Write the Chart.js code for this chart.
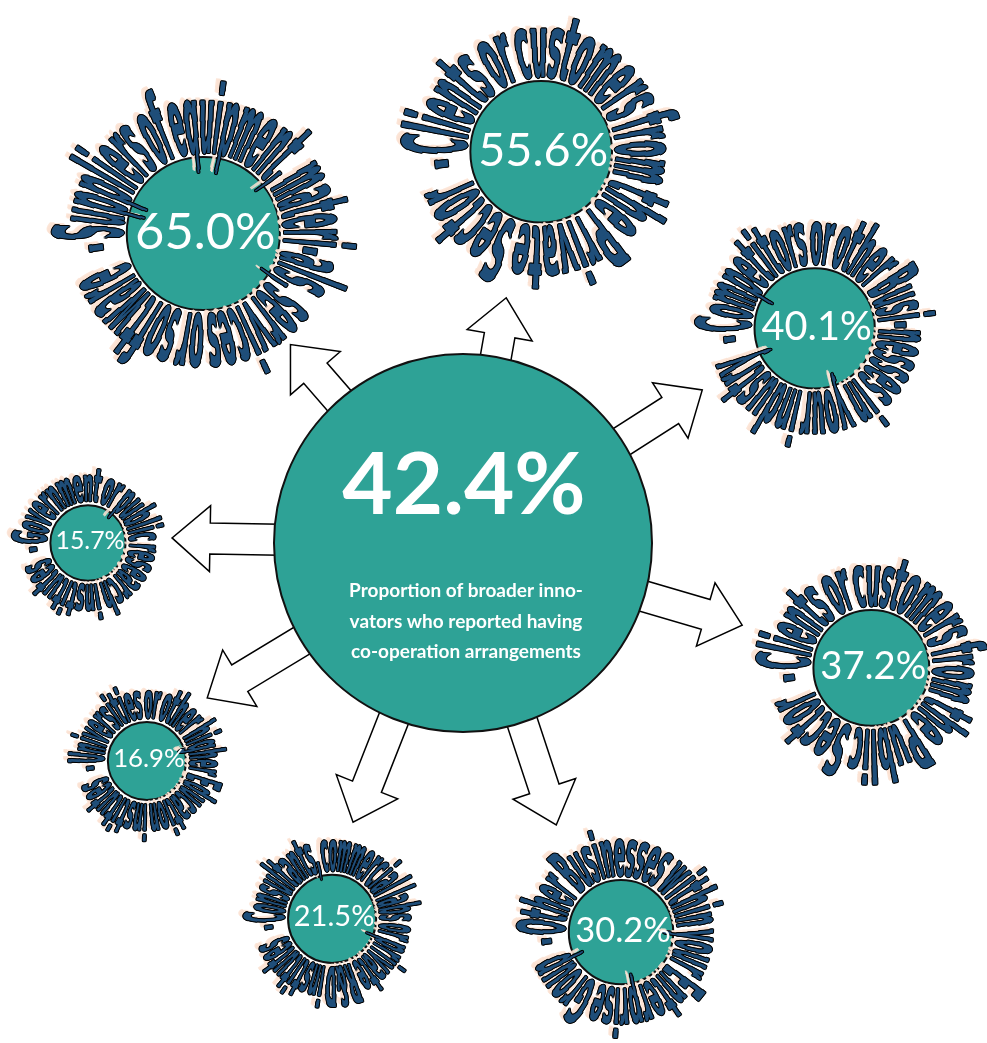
<!DOCTYPE html>
<html>
<head>
<meta charset="utf-8">
<title>Co-operation partners of broader innovators</title>
<script src="https://cdn.jsdelivr.net/npm/chart.js@4.4.1/dist/chart.umd.min.js"></script>
<style>
  html, body { margin: 0; padding: 0; background: #fff; }
  #wrap { width: 987px; height: 1043px; }
</style>
</head>
<body>
<div id="wrap"><canvas id="coopChart" width="987" height="1043"></canvas></div>
<script>
const partners = [
  "- Suppliers of equipment, materi-als, services or software",
  "- Clients or customers from the Private Sector",
  "- Competitors or other Busi-nesses in your industry",
  "- Government or public research institutes",
  "- Clients or customers from the Public Sector",
  "- Universities or other higher Education institutes",
  "- Consultants, commercial labs or private R&D institutes",
  "- Other Businesses within your Enterprise Group",
];
const shares = [65.0, 55.6, 40.1, 15.7, 37.2, 16.9, 21.5, 30.2];
const overallShare = 42.4;
const overallCaption = [
  "Proportion of broader inno-",
  "vators who reported having",
  "co-operation arrangements",
];

// placement round the hub: degrees clockwise from 3 o'clock, distances in px
const hub = { x: 463, y: 543, r: 189 };
const spokeAngles = [-130, -78.7, -31.4, 180, 17, 145.4, 109.2, 67.9];
const spokeLengths = [404, 399, 412, 375, 427, 384, 398, 420];
const arrowAngles = [-131, -80, -32.6, 181, 16.4, 148.8, 111.5, 71.7];
const arrowReach = [263, 249, 284, 291, 291, 299, 300, 297];

const TEAL = "#2ea296";
const INK = "#1f4e79";
const PEACH = "rgba(252,226,210,0.85)";
const RING_FONT = '"Liberation Sans Narrow", "DejaVu Sans Condensed", "Liberation Sans", sans-serif';
const LABEL_FONT = 'Lato, "Open Sans", sans-serif';

const rad = (d) => (d * Math.PI) / 180;
// circle area follows the share
const bubbleSize = (v) => 9.5 * Math.sqrt(v);

const partnerPoints = shares.map((v, i) => ({
  x: hub.x + spokeLengths[i] * Math.cos(rad(spokeAngles[i])),
  y: hub.y + spokeLengths[i] * Math.sin(rad(spokeAngles[i])),
  r: bubbleSize(v),
  v,
}));

function drawArrow(ctx, cx, cy, angle, reach) {
  const start = 140, headLen = 38, shaft = 15.5, head = 33;
  ctx.save();
  ctx.translate(cx, cy);
  ctx.rotate(rad(angle));
  ctx.beginPath();
  ctx.moveTo(start, -shaft);
  ctx.lineTo(reach - headLen, -shaft);
  ctx.lineTo(reach - headLen, -head);
  ctx.lineTo(reach, 0);
  ctx.lineTo(reach - headLen, head);
  ctx.lineTo(reach - headLen, shaft);
  ctx.lineTo(start, shaft);
  ctx.closePath();
  ctx.fillStyle = "#fff";
  ctx.fill();
  ctx.lineWidth = 1.5;
  ctx.strokeStyle = "#000";
  ctx.lineJoin = "miter";
  ctx.stroke();
  ctx.restore();
}

// one glyph bent onto the ring: sliced radially so it widens outwards
const SLICES = 6;
function drawGlyph(ctx, g, base, sx0, fontPx, ox, oy) {
  const band = fontPx / SLICES;
  for (let k = -2; k < SLICES; k++) {
    const sx = (sx0 * (base + (k + 0.5) * band)) / base;
    ctx.save();
    ctx.translate(g.x + ox, g.y + oy);
    ctx.rotate(g.theta + Math.PI / 2);
    ctx.beginPath();
    ctx.rect(-400, -(k + 1) * band - 0.4, 800, band + 0.8);
    ctx.clip();
    ctx.scale(sx, 1);
    ctx.fillText(g.c, 0, 0);
    ctx.restore();
  }
}

function ringText(ctx, text, cx, cy, r) {
  const fontPx = r * 1.25;
  const base = r + 4;
  const tracking = fontPx * 0.05;
  ctx.font = `bold ${fontPx}px ${RING_FONT}`;
  ctx.textAlign = "center";
  ctx.textBaseline = "alphabetic";
  const chars = Array.from(text);
  // word gaps are kept tight, letters get a little air
  const widths = chars.map((c) =>
    c === " " ? ctx.measureText(c).width * 0.55 : ctx.measureText(c).width + tracking
  );
  const total = widths.reduce((a, b) => a + b, 0);
  const sx0 = (rad(350) * base) / total;
  let run = 0;
  const glyphs = chars.map((c, i) => {
    const theta = rad(170) + ((run + widths[i] / 2) * sx0) / base;
    run += widths[i];
    return { c, theta, x: cx + base * Math.cos(theta), y: cy + base * Math.sin(theta) };
  });
  const d = 1.0;
  const passes = [
    { color: PEACH, offsets: [[-5, -3], [-4, -2]] },
    { color: "#000", offsets: [[-d, 0], [d, 0], [0, -d], [0, d], [-0.7 * d, -0.7 * d], [0.7 * d, -0.7 * d], [-0.7 * d, 0.7 * d], [0.7 * d, 0.7 * d]] },
    { color: INK, offsets: [[0, 0]] },
  ];
  passes.forEach((p) => {
    ctx.fillStyle = p.color;
    p.offsets.forEach(([ox, oy]) => {
      glyphs.forEach((g) => {
        if (g.c !== " ") drawGlyph(ctx, g, base, sx0, fontPx, ox, oy);
      });
    });
  });
}

const spokes = {
  id: "spokes",
  beforeDatasetsDraw(chart) {
    const ctx = chart.ctx;
    const c = chart.getDatasetMeta(0).data[0];
    arrowAngles.forEach((a, i) => drawArrow(ctx, c.x, c.y, a, arrowReach[i]));
  },
  afterDatasetsDraw(chart) {
    const ctx = chart.ctx;
    const meta = chart.getDatasetMeta(1);
    ctx.save();
    meta.data.forEach((el, i) => {
      ringText(ctx, partners[i], el.x, el.y, partnerPoints[i].r);
    });
    ctx.fillStyle = "#fff";
    ctx.textAlign = "center";
    ctx.textBaseline = "alphabetic";
    meta.data.forEach((el, i) => {
      const r = partnerPoints[i].r;
      const size = r * 0.66;
      ctx.font = `${size}px ${LABEL_FONT}`;
      ctx.fillText(shares[i].toFixed(1) + "%", el.x + 2, el.y - 3 + size * 0.36);
    });
    const c = chart.getDatasetMeta(0).data[0];
    ctx.font = `bold 87px ${LABEL_FONT}`;
    ctx.fillText(overallShare.toFixed(1) + "%", c.x + 1, c.y - 29);
    ctx.font = `bold 19px ${LABEL_FONT}`;
    overallCaption.forEach((line, i) => {
      ctx.fillText(line, c.x + 3, c.y + 54 + i * 30.5);
    });
    ctx.restore();
  },
};

new Chart(document.getElementById("coopChart"), {
  type: "bubble",
  data: {
    datasets: [
      {
        label: "Any co-operation",
        data: [{ x: hub.x, y: hub.y, r: hub.r, v: overallShare }],
        backgroundColor: TEAL,
        borderColor: "#111",
        borderWidth: 2,
      },
      {
        label: "By partner type",
        data: partnerPoints,
        backgroundColor: TEAL,
        borderColor: "#111",
        borderWidth: 2,
      },
    ],
  },
  options: {
    responsive: false,
    animation: false,
    events: [],
    layout: { padding: 0, autoPadding: false },
    scales: {
      x: { type: "linear", min: 0, max: 987, display: false },
      y: { type: "linear", min: 0, max: 1043, reverse: true, display: false },
    },
    plugins: {
      legend: { display: false },
      tooltip: { enabled: false },
    },
  },
  plugins: [spokes],
});
</script>
</body>
</html>
